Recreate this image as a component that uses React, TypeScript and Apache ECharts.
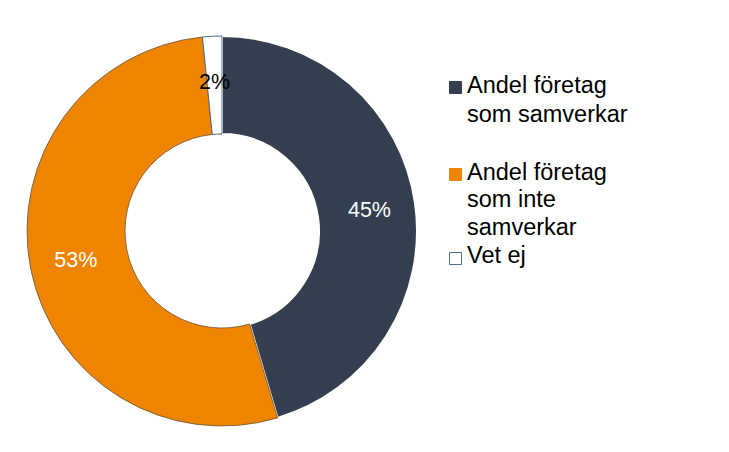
import React, { useEffect, useRef } from "react";
import * as echarts from "echarts";

const categories = ["Andel företag som samverkar", "Andel företag som inte samverkar", "Vet ej"];
const legendLines = [["Andel företag", "som samverkar"], ["Andel företag", "som inte", "samverkar"], ["Vet ej"]];
const values = [45.4, 53.0, 1.6];
const colors = ["#333f4f", "#ee8400", "#ffffff"];
const borderColors = ["#ffffff", "#6a5440", "#4f6a88"];
const borderWidths = [2, 0.8, 1];
const labelColors = ["#ffffff", "#ffffff", "#000000"];

const FONT = "'Liberation Sans', Arial, sans-serif";

export default function App() {
  const ref = useRef<HTMLDivElement>(null);
  useEffect(() => {
    if (!ref.current) return;
    const chart = echarts.init(ref.current, null, { renderer: "svg" });
    const legendTops = [70.5, 158, 240.5];
    const legendLH = [29, 27.5, 28];
    const iconTops = [81, 168, 252];
    const graphics: any[] = [];
    categories.forEach((c, i) => {
      graphics.push({
        type: "rect",
        left: 449,
        top: iconTops[i],
        shape: { width: 12, height: 12 },
        style: { fill: colors[i], stroke: i === 2 ? "#4f6a88" : colors[i], lineWidth: 1 },
      });
      graphics.push({
        type: "text",
        x: 467,
        y: legendTops[i],
        style: {
          text: legendLines[i].join("\n"),
          font: `23.5px ${FONT}`,
          fill: "#000000",
          lineHeight: legendLH[i],
          verticalAlign: "top",
          align: "left",
        },
      });
    });
    chart.setOption({
      animation: false,
      backgroundColor: "#ffffff",
      graphic: graphics,
      series: [
        {
          type: "pie",
          center: [222, 231],
          radius: [97, 195],
          startAngle: 90,
          clockwise: true,
          avoidLabelOverlap: false,
          labelLine: { show: false },
          data: categories.map((name, i) => ({
            name,
            value: values[i],
            itemStyle: { color: colors[i], borderColor: borderColors[i], borderWidth: borderWidths[i] },
            label: {
              show: true,
              position: "inside",
              formatter: (p: any) => Math.round(p.value) + "%",
              color: labelColors[i],
              fontSize: 21.5,
              fontFamily: FONT,
            },
          })),
          emphasis: { disabled: true },
        },
      ],
    });
    return () => chart.dispose();
  }, []);
  return (
    <div
      ref={ref}
      style={{ position: "absolute", left: 0, top: 0, width: 729, height: 452 }}
    />
  );
}
